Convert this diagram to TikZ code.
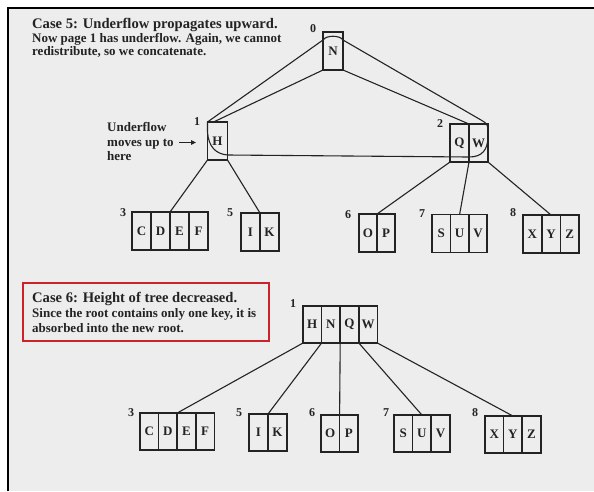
\documentclass[tikz,border=0pt]{standalone}
\usepackage{fontspec}
\setmainfont{Liberation Serif}
\usetikzlibrary{calc,arrows.meta}

\definecolor{ink}{RGB}{35,35,35}
\definecolor{paper}{RGB}{237,237,237}
\definecolor{boxred}{RGB}{205,35,40}

\tikzset{
  cell/.style={draw=ink, line width=1.7pt, minimum width=19pt, minimum height=38pt,
    inner sep=0pt, outer sep=0pt, anchor=north west, text=ink,
    font=\bfseries\fontsize{13}{13}\selectfont},
  lowcell/.style={cell, minimum width=18.6pt, minimum height=37pt},
  pageno/.style={inner sep=0pt, text=ink, font=\bfseries\fontsize{12}{12}\selectfont},
  link/.style={draw=ink, line width=1.1pt},
  caption/.style={anchor=base west, inner sep=0pt, text=ink,
    font=\bfseries\fontsize{13}{14}\selectfont},
  heading/.style={caption, font=\bfseries\fontsize{14.6}{15}\selectfont},
}

\begin{document}
\begin{tikzpicture}[x=1pt,y=-1pt]
\useasboundingbox (0,0) rectangle (594,491);
% scanned page with its dark edge
\fill[white] (0,0) rectangle (594,491);
\fill[paper] (8,8) rectangle (594,491);
\draw[black, line width=2pt] (7.5,491) -- (7.5,7.5) -- (594,7.5);

% ---------- Case 5 ----------
\node[heading] (c5title) at (32,28) {Case 5: Underflow propagates upward.};
\node[caption] (c5line1) at (32,42) {Now page 1 has underflow. Again, we cannot};
\node[caption] (c5line2) at (32,55) {redistribute, so we concatenate.};

\node[caption] (uf1) at (107,131) {Underflow};
\node[caption] (uf2) at (107,146) {moves up to};
\node[caption] (uf3) at (107,160) {here};
\coordinate (ufstart) at (179,142.5);
\coordinate (uftip) at (196,142.5);
\draw[ink, line width=1pt, -{Triangle[length=5pt,width=4.5pt]}] (ufstart) -- (uftip);

% root and second level
\node[cell, minimum width=20pt] (t0) at (323,32) {N};
\node[cell, minimum width=20pt] (t1) at (207.5,122) {H};
\node[cell] (t2a) at (450,124) {Q};
\node[cell] (t2b) at (t2a.north east) {W};

% leaves
\node[cell] (t3a) at (132,212) {C};
\node[cell] (t3b) at (t3a.north east) {D};
\node[cell] (t3c) at (t3b.north east) {E};
\node[cell] (t3d) at (t3c.north east) {F};
\node[cell] (t5a) at (241,213) {I};
\node[cell] (t5b) at (t5a.north east) {K};
\node[cell, minimum width=18pt] (t6a) at (359,214) {O};
\node[cell, minimum width=18pt] (t6b) at (t6a.north east) {P};
\node[cell, minimum width=18.4pt] (t7a) at (432,214.5) {S};
\node[cell, minimum width=18.4pt] (t7b) at (t7a.north east) {U};
\node[cell, minimum width=18.4pt] (t7c) at (t7b.north east) {V};
\node[cell, minimum width=18.7pt] (t8a) at (523,215) {X};
\node[cell, minimum width=18.7pt] (t8b) at (t8a.north east) {Y};
\node[cell, minimum width=18.7pt] (t8c) at (t8b.north east) {Z};

% page numbers
\node[pageno] (p0) at (313,29) {0};
\node[pageno] (p1) at (197,122) {1};
\node[pageno] (p2) at (440,124) {2};
\node[pageno] (p3) at (123,213) {3};
\node[pageno] (p5) at (230,213) {5};
\node[pageno] (p6) at (348,215) {6};
\node[pageno] (p7) at (422,214) {7};
\node[pageno] (p8) at (513,213) {8};

% pointers
\draw[link] (t0.south west) -- ($(t1.north west)+(6,0)$);
\draw[link] (t0.south east) -- (t2a.north east);
\draw[link] (t1.south west) -- (t3c.north west);
\draw[link] (t1.south east) -- (t5b.north west);
\draw[link] (t2a.south west) -- (t6b.north west);
\draw[link] (t2a.south east) -- (t7b.north);
\draw[link] (t2b.south east) -- (t8b.north);

% outline of the pages being concatenated
\draw[link, line join=round]
  (t1.north west) -- ($(t0.north west)+(0,8)$)
  .. controls ($(t0.north west)+(3,3)$) and ($(t0.north east)+(-3,3)$) .. ($(t0.north east)+(0,8)$)
  -- ($(t2b.north east)+(-7,-4)$)
  .. controls ($(t2b.north east)+(-1,-1)$) and ($(t2b.north east)+(0,2)$) .. ($(t2b.north east)+(0,6)$)
  -- ($(t2b.north east)+(0,12)$)
  .. controls ($(t2b.north east)+(0,26)$) and ($(t2b.north east)+(-6,33)$) .. ($(t2a.north east)+(0,33)$)
  -- ($(t1.north east)+(0,33)$)
  .. controls ($(t1.north west)+(8.5,32)$) and ($(t1.north west)+(1,25)$) .. ($(t1.north west)+(0,10)$)
  -- cycle;

% ---------- Case 6 ----------
\node[draw=boxred, line width=1.1pt, minimum width=246pt, minimum height=58pt,
      inner sep=0pt, outer sep=0pt, anchor=north west] (c6box) at (23,283) {};
\node[heading] (c6title) at (32,302) {Case 6: Height of tree decreased.};
\node[caption] (c6line1) at (32,317) {Since the root contains only one key, it is};
\node[caption] (c6line2) at (32,332) {absorbed into the new root.};

% new root
\node[lowcell] (b1a) at (303,306) {H};
\node[lowcell] (b1b) at (b1a.north east) {N};
\node[lowcell] (b1c) at (b1b.north east) {Q};
\node[lowcell] (b1d) at (b1c.north east) {W};

% leaves
\node[lowcell] (b3a) at (140,413) {C};
\node[lowcell] (b3b) at (b3a.north east) {D};
\node[lowcell] (b3c) at (b3b.north east) {E};
\node[lowcell] (b3d) at (b3c.north east) {F};
\node[lowcell, minimum width=19pt] (b5a) at (249,414) {I};
\node[lowcell, minimum width=19pt] (b5b) at (b5a.north east) {K};
\node[lowcell] (b6a) at (321,415) {O};
\node[lowcell] (b6b) at (b6a.north east) {P};
\node[lowcell] (b7a) at (394,415) {S};
\node[lowcell] (b7b) at (b7a.north east) {U};
\node[lowcell] (b7c) at (b7b.north east) {V};
\node[lowcell] (b8a) at (485,416) {X};
\node[lowcell] (b8b) at (b8a.north east) {Y};
\node[lowcell] (b8c) at (b8b.north east) {Z};

% page numbers
\node[pageno] (q1) at (293,304) {1};
\node[pageno] (q3) at (131,413) {3};
\node[pageno] (q5) at (239,413) {5};
\node[pageno] (q6) at (312,413) {6};
\node[pageno] (q7) at (386,413) {7};
\node[pageno] (q8) at (475,413) {8};

% pointers
\draw[link] (b1a.south west) -- (b3c.north west);
\draw[link] (b1b.south west) -- (b5b.north west);
\draw[link] (b1c.south west) -- (b6b.north west);
\draw[link] (b1d.south west) -- (b7b.north);
\draw[link] (b1d.south east) -- (b8b.north);
\end{tikzpicture}
\end{document}
